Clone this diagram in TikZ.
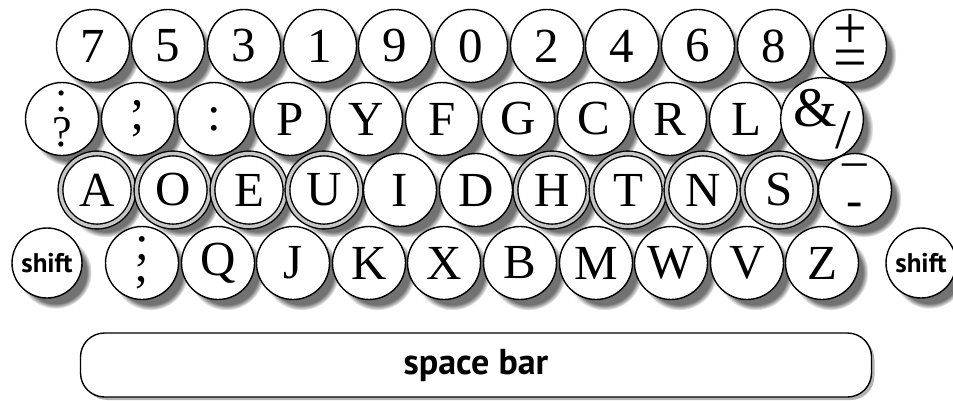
\documentclass[tikz,border=0pt]{standalone}
\usepackage{fontspec}
\setmainfont{Liberation Serif}
\newfontfamily\keysans{PT Sans}
\usetikzlibrary{shadows}

\begin{document}
\begin{tikzpicture}[x=1pt, y=-1pt,
    keycap/.style={circle, draw, line width=1.4pt, fill=white, minimum size=73pt, inner sep=0pt,
      font=\fontsize{49}{49}\selectfont,
      circular drop shadow={shadow xshift=8pt, shadow yshift=-9pt, shadow scale=1.04, fill=black!85, opacity=0.65}},
    homekey/.style={double=gray!45, double distance=3.4pt},
    shiftkey/.style={minimum size=70pt, font=\keysans\bfseries\fontsize{27}{27}\selectfont}]
  \useasboundingbox (0,0) rectangle (953,400);
  \begin{scope}[every node/.style={keycap}]
    % number row
    \node (k7) at (93,46) {7};
    \node (k5) at (168,46) {5};
    \node (k3) at (244,46) {3};
    \node (k1) at (320,46) {1};
    \node (k9) at (395,46) {9};
    \node (k0) at (471,46) {0};
    \node (k2) at (547,46) {2};
    \node (k4) at (622,46) {4};
    \node (k6) at (698,46) {6};
    \node (k8) at (774,46) {8};
    \node[font=\fontsize{60}{60}\selectfont] (kplus) at (850,46) {\shortstack{+\\[-2pt]=}};
    % upper row
    \node[font=\fontsize{44}{44}\selectfont] (kcolq) at (62,119) {\shortstack{:\\[2pt]?}};
    \node (kcomma) at (138,119) {\shortstack{,\\[8pt],}};
    \node (kcolon) at (214,119) {:};
    \node (kP) at (290,119) {P};
    \node (kY) at (366,119) {Y};
    \node (kF) at (442,119) {F};
    \node (kG) at (518,119) {G};
    \node (kC) at (594,119) {C};
    \node (kR) at (670,119) {R};
    \node (kL) at (746,119) {L};
    \node[font=\fontsize{56}{56}\selectfont] (kamp) at (822,119) {\raisebox{8pt}{\&}\hspace{-2pt}\raisebox{-14pt}{/}};
    % home row
    \node[homekey] (kA) at (97,190) {A};
    \node[homekey] (kO) at (173,190) {O};
    \node[homekey] (kE) at (249,190) {E};
    \node[homekey] (kU) at (324,190) {U};
    \node (kI) at (400,190) {I};
    \node (kD) at (476,190) {D};
    \node[homekey] (kH) at (552,190) {H};
    \node[homekey] (kT) at (628,190) {T};
    \node[homekey] (kN) at (703,190) {N};
    \node[homekey] (kS) at (779,190) {S};
    \node (kdash) at (855,190) {\shortstack{--\\[24pt]-}};
    % lower row
    \node[shiftkey] (lshift) at (47,263) {shift};
    \node (ksemi) at (142,263) {\shortstack{;\\[6pt],}};
    \node (kQ) at (218,263) {Q};
    \node (kJ) at (293,263) {J};
    \node (kK) at (369,263) {K};
    \node (kX) at (444,263) {X};
    \node (kB) at (520,263) {B};
    \node (kM) at (596,263) {M};
    \node (kW) at (671,263) {W};
    \node (kV) at (747,263) {V};
    \node (kZ) at (822,263) {Z};
    \node[shiftkey] (rshift) at (921,263) {shift};
  \end{scope}
  \node[draw, line width=1.4pt, fill=white, rounded corners=24pt, minimum width=791pt, minimum height=64pt,
    font=\keysans\bfseries\fontsize{36}{36}\selectfont,
    drop shadow={shadow xshift=3pt, shadow yshift=-3pt, opacity=0.6}] (spacebar) at (476,365) {space bar};
\end{tikzpicture}
\end{document}
